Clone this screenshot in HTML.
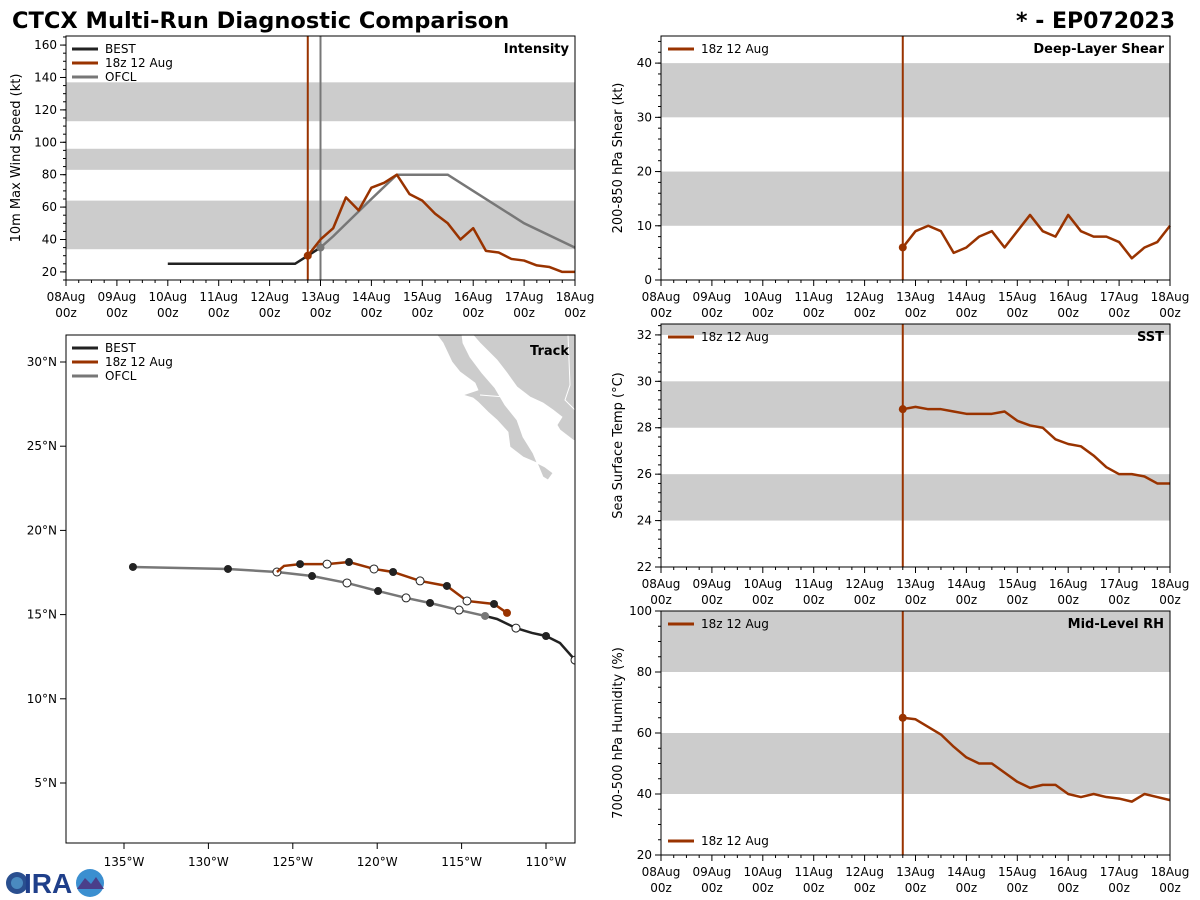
<!DOCTYPE html>
<html><head><meta charset="utf-8">
<style>
body{margin:0;background:#fff;}
svg{display:block;font-family:"DejaVu Sans","Liberation Sans",sans-serif;}
</style></head>
<body>
<svg id="fig" width="1200" height="900" viewBox="0 0 1200 900" xmlns="http://www.w3.org/2000/svg">
<text x="12" y="28" font-size="22.5" font-weight="bold">CTCX Multi-Run Diagnostic Comparison</text>
<text x="1175" y="28" font-size="22" font-weight="bold" text-anchor="end">* - EP072023</text>
<g>
<circle cx="17" cy="883" r="11" fill="#2a4f8f"/>
<circle cx="17" cy="883" r="6" fill="#4a8ac0"/>
<text x="24" y="893" font-size="28" font-weight="bold" fill="#1f3f8a" font-family="Liberation Sans, sans-serif">IRA</text>
<circle cx="90" cy="883" r="14" fill="#3b8fd0"/>
<path d="M77 889 L85 878 L91 884 L96 877 L104 889 Z" fill="#4a3f8a"/>
</g>
<g id="plots"></g>
</svg>
<script>
// ---------- data ----------
const dayLabels=["08Aug","09Aug","10Aug","11Aug","12Aug","13Aug","14Aug","15Aug","16Aug","17Aug","18Aug"];
const bestT=[2,2.5,3,3.5,4,4.5,4.75,5];
const bestV=[25,25,25,25,25,25,30,35];
const runT0=4.75;
const runV=[30,40,47,66,58,72,75,80,68,64,56,50,40,47,33,32,28,27,24,23,20,20];
const ofclT=[5,5.25,6,6.5,7.5,8,9,10];
const ofclV=[35,42,65,80,80,70,50,35];
const shearV=[6,9,10,9,5,6,8,9,6,9,12,9,8,12,9,8,8,7,4,6,7,10];
const sstV=[28.8,28.9,28.8,28.8,28.7,28.6,28.6,28.6,28.7,28.3,28.1,28.0,27.5,27.3,27.2,26.8,26.3,26.0,26.0,25.9,25.6,25.6];
const rhV=[65,64.5,62,59.5,55.5,52,50,50,47,44,42,43,43,40,39,40,39,38.5,37.5,40,39,38];
const intTicks=[20,40,60,80,100,120,140,160];
const shearTicks=[0,10,20,30,40];
const sstTicks=[22,24,26,28,30,32];
const rhTicks=[20,40,60,80,100];
const trkOfclLon=[-134.47,-128.84,-125.94,-123.86,-121.79,-119.95,-118.29,-116.87,-115.15,-113.61];
const trkOfclLat=[17.83,17.71,17.53,17.29,16.88,16.40,15.99,15.69,15.27,14.92];
const trkOfclMk=["f","f","o","f","o","f","o","f","o","g"];
const trkBestLon=[-113.61,-112.9,-111.78,-110.83,-110.0,-109.17,-108.28,-107.9];
const trkBestLat=[14.92,14.74,14.2,13.91,13.73,13.31,12.3,11.9];
const trkBestMk=["","","o","","f","","o",""];
const trkRunLon=[-125.94,-125.52,-124.57,-122.97,-121.67,-120.19,-119.06,-117.46,-115.87,-114.68,-113.08,-112.31];
const trkRunLat=[17.53,17.89,18.0,18.0,18.12,17.71,17.53,17.0,16.7,15.81,15.63,15.1];
const trkRunMk=["","","f","o","f","o","f","o","f","o","f","r"];
const lonTicks=[-135,-130,-125,-120,-115,-110];
const latTicks=[5,10,15,20,25,30];

// ---------- helpers ----------
const NS="http://www.w3.org/2000/svg";
const root=document.getElementById("plots");
const RED="#993300",BLK="#222",GRY="#777";
function mk(tag,attrs,parent){const e=document.createElementNS(NS,tag);for(const k in attrs)e.setAttribute(k,attrs[k]);(parent||root).appendChild(e);return e;}

function timePanel(o){
  const g=mk("g",{});
  
  
  const X=t=>o.x0+(o.x1-o.x0)*t/10;
  const Y=v=>o.y1-(o.y1-o.y0)*(v-o.vmin)/(o.vmax-o.vmin);
  o.bands.forEach(b=>{
    const r=mk("rect",{x:o.x0,y:Y(Math.min(b[1],o.vmax)),width:o.x1-o.x0,height:Y(b[0])-Y(Math.min(b[1],o.vmax)),fill:"#cccccc"},g);
    
    
  });
  for(let i=0;i<=40;i++){const x=X(i/4);mk("line",{x1:x,x2:x,y1:o.y1,y2:o.y1+(i%4?3:6),stroke:"#000","stroke-width":1},g);}
  dayLabels.forEach((d,i)=>{
    const t=mk("text",{x:X(i),y:o.y1+21,"font-size":12,"text-anchor":"middle"},g);t.textContent=d;
    
    
    const t2=mk("text",{x:X(i),y:o.y1+37,"font-size":12,"text-anchor":"middle"},g);t2.textContent="00z";
    
    
  });
  for(let v=o.vmin;v<=o.vmax+1e-9;v+=o.minor){const y=Y(v);mk("line",{x1:o.x0-3,x2:o.x0,y1:y,y2:y,stroke:"#000"},g);}
  o.ticks.forEach(v=>{const y=Y(v);mk("line",{x1:o.x0-6,x2:o.x0,y1:y,y2:y,stroke:"#000"},g);
    const t=mk("text",{x:o.x0-9,y:y+4,"font-size":12,"text-anchor":"end"},g);t.textContent=v;
    
    });
  const yl=mk("text",{x:0,y:0,"font-size":13,"text-anchor":"middle",transform:`translate(${o.ylx},${(o.y0+o.y1)/2}) rotate(-90)`},g);yl.textContent=o.ylabel;
  
  
  const ttl=mk("text",{x:o.x1-6,y:o.y0+17,"font-size":13,"font-weight":"bold","text-anchor":"end"},g);ttl.textContent=o.title;
  
  
  const vl=mk("line",{x1:X(runT0),x2:X(runT0),y1:o.y0,y2:o.y1,stroke:RED,"stroke-width":2},g);
  
  
  if(o.extra)o.extra(g,X,Y);
  const pts=o.data.map((v,i)=>X(runT0+i*0.25)+","+Y(v)).join(" ");
  const pl=mk("polyline",{points:pts,fill:"none",stroke:RED,"stroke-width":2.5,"stroke-linejoin":"round"},g);
  
  
  mk("circle",{cx:X(runT0),cy:Y(o.data[0]),r:4,fill:RED},g);
  mk("rect",{x:o.x0,y:o.y0,width:o.x1-o.x0,height:o.y1-o.y0,fill:"none",stroke:"#000","stroke-width":1},g);
  o.legY.forEach(ly=>{
    const lg=mk("g",{},g);
    
    
    mk("line",{x1:o.x0+7,x2:o.x0+33,y1:ly,y2:ly,stroke:RED,"stroke-width":3},lg);
    const lt=mk("text",{x:o.x0+40,y:ly+4,"font-size":12},lg);lt.textContent="18z 12 Aug";
  });
}

timePanel({name:"intensity-panel",x0:66,x1:575,y0:36,y1:280,vmin:15,vmax:165.6,minor:5,ticks:intTicks,
  bands:[[34,64],[83,96],[113,137]],ylabel:"10m Max Wind Speed (kt)",ylx:20,title:"Intensity",data:runV,legY:[],
  extra:(g,X,Y)=>{
    const gl=mk("line",{x1:X(5),x2:X(5),y1:36,y2:280,stroke:GRY,"stroke-width":2},g);
    
    
    const bl=mk("polyline",{points:bestT.map((t,i)=>X(t)+","+Y(bestV[i])).join(" "),fill:"none",stroke:BLK,"stroke-width":2.5},g);
    
    
    const ol=mk("polyline",{points:ofclT.map((t,i)=>X(t)+","+Y(ofclV[i])).join(" "),fill:"none",stroke:GRY,"stroke-width":2.5},g);
    
    
    mk("circle",{cx:X(5),cy:Y(ofclV[0]),r:4,fill:GRY},g);
    [["BEST",BLK,49],["18z 12 Aug",RED,63],["OFCL",GRY,77]].forEach(L=>{
      const lg=mk("g",{},g);
      
      
      mk("line",{x1:72,x2:98,y1:L[2],y2:L[2],stroke:L[1],"stroke-width":3},lg);
      const t=mk("text",{x:105,y:L[2]+4,"font-size":12},lg);t.textContent=L[0];
    });
  }});
timePanel({name:"shear-panel",x0:661,x1:1170,y0:36,y1:280,vmin:0,vmax:45,minor:2,ticks:shearTicks,
  bands:[[10,20],[30,40]],ylabel:"200-850 hPa Shear (kt)",ylx:622,title:"Deep-Layer Shear",data:shearV,legY:[49]});
timePanel({name:"sst-panel",x0:661,x1:1170,y0:324,y1:567,vmin:22,vmax:32.47,minor:0.4,ticks:sstTicks,
  bands:[[24,26],[28,30],[32,33]],ylabel:"Sea Surface Temp (°C)",ylx:622,title:"SST",data:sstV,legY:[337]});
timePanel({name:"rh-panel",x0:661,x1:1170,y0:611,y1:855,vmin:20,vmax:100,minor:5,ticks:rhTicks,
  bands:[[40,60],[80,100]],ylabel:"700-500 hPa Humidity (%)",ylx:622,title:"Mid-Level RH",data:rhV,legY:[624,841]});

(function(){
  const g=mk("g",{});
  
  
  const x0=66,x1=575,y0=335,y1=843;
  const X=lon=>124+(lon+135)*16.88;
  const Y=lat=>362-(lat-30)*16.84;
  const cp=mk("clipPath",{id:"tc"},g);mk("rect",{x:x0,y:y0,width:x1-x0,height:y1-y0},cp);
  const inner=mk("g",{"clip-path":"url(#tc)"},g);
  const land1=mk("path",{d:"M437 335 L443 343 L452 362 L460 372 L475 383 L478 390 L463 395 L473 398 L478 402 L488 412 L497 420 L508 432 L510 447 L523 457 L537 463 L545 467 L553 473 L548 480 L543 477 L538 465 L533 453 L523 437 L517 420 L505 405 L495 388 L482 373 L470 357 L463 343 L462 335 Z",fill:"#cccccc",stroke:"#fff","stroke-width":0.8},inner);
  
  
  const land2=mk("path",{d:"M473 335 L480 343 L497 360 L507 373 L517 387 L530 397 L543 403 L553 410 L562 417 L557 425 L560 430 L573 440 L576 441 L576 335 Z",fill:"#cccccc",stroke:"#fff","stroke-width":0.8},inner);
  
  
  mk("polyline",{points:"480,395 505,397",fill:"none",stroke:"#fff","stroke-width":1},inner);
  mk("polyline",{points:"568,335 570,385 565,400 575,410",fill:"none",stroke:"#fff","stroke-width":1},inner);
  function track(lons,lats,mks,color,name){
    const pl=mk("polyline",{points:lons.map((l,i)=>X(l)+","+Y(lats[i])).join(" "),fill:"none",stroke:color,"stroke-width":2.5},inner);
    
    
    mks.forEach((m,i)=>{
      if(!m)return;
      const c=mk("circle",{cx:X(lons[i]),cy:Y(lats[i]),r:4,fill:m=="o"?"#fff":m=="r"?RED:m=="g"?GRY:BLK,stroke:m=="o"?BLK:"none","stroke-width":1},inner);
      
      
    });
  }
  track(trkBestLon,trkBestLat,trkBestMk,BLK,"best-track");
  track(trkOfclLon,trkOfclLat,trkOfclMk,GRY,"ofcl-track");
  track(trkRunLon,trkRunLat,trkRunMk,RED,"run-18z-track");
  mk("rect",{x:x0,y:y0,width:x1-x0,height:y1-y0,fill:"none",stroke:"#000"},g);
  lonTicks.forEach(l=>{const x=X(l);mk("line",{x1:x,x2:x,y1:y1,y2:y1+6,stroke:"#000"},g);
    const t=mk("text",{x:x,y:y1+23,"font-size":12,"text-anchor":"middle"},g);t.textContent=Math.abs(l)+"°W";
    
    });
  latTicks.forEach(l=>{const y=Y(l);mk("line",{x1:x0-6,x2:x0,y1:y,y2:y,stroke:"#000"},g);
    const t=mk("text",{x:x0-9,y:y+4,"font-size":12,"text-anchor":"end"},g);t.textContent=l+"°N";
    
    });
  const tt=mk("text",{x:x1-6,y:y0+20,"font-size":13,"font-weight":"bold","text-anchor":"end"},g);tt.textContent="Track";
  
  
  [["BEST",BLK,348],["18z 12 Aug",RED,362],["OFCL",GRY,376]].forEach(L=>{
    const lg=mk("g",{},g);
    
    
    mk("line",{x1:72,x2:98,y1:L[2],y2:L[2],stroke:L[1],"stroke-width":3},lg);
    const t=mk("text",{x:105,y:L[2]+4,"font-size":12},lg);t.textContent=L[0];
  });
})();
</script>
</body></html>
